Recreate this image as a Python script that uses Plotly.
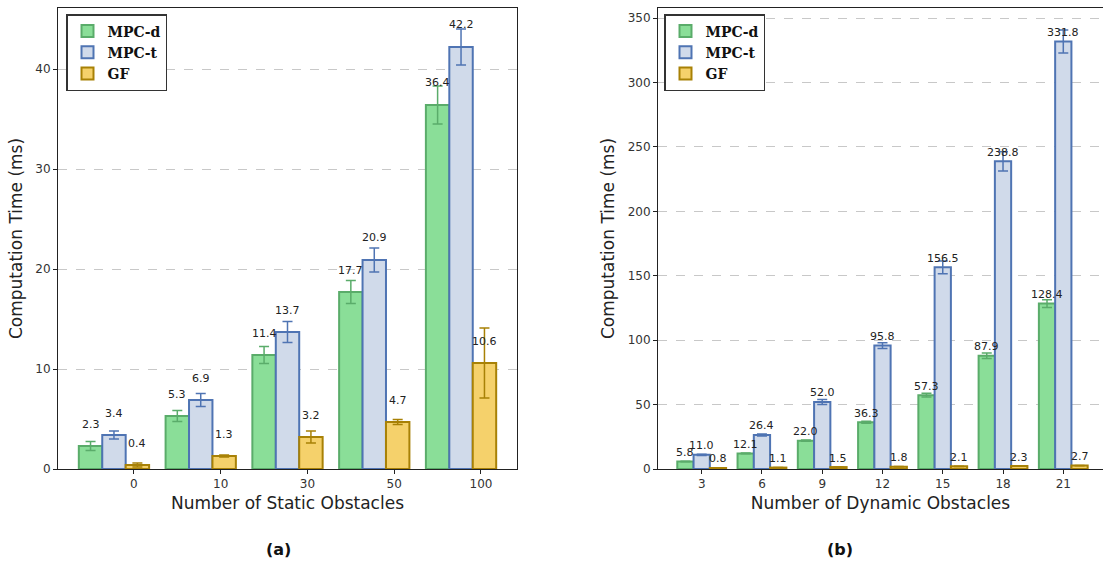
import plotly.graph_objects as go

# ---------------- data ----------------
static_labels = ["0", "10", "30", "50", "100"]
static_mpcd = [2.3, 5.3, 11.4, 17.7, 36.4]
static_mpcd_err = [0.45, 0.55, 0.85, 1.15, 1.9]
static_mpct = [3.4, 6.9, 13.7, 20.9, 42.2]
static_mpct_err = [0.4, 0.65, 1.05, 1.2, 1.8]
static_gf = [0.4, 1.3, 3.2, 4.7, 10.6]
static_gf_err = [0.2, 0.1, 0.6, 0.25, 3.5]

dyn_labels = ["3", "6", "9", "12", "15", "18", "21"]
dyn_mpcd = [5.8, 12.1, 22.0, 36.3, 57.3, 87.9, 128.4]
dyn_mpcd_err = [0.2, 0.3, 0.5, 0.8, 1.5, 2.2, 3.0]
dyn_mpct = [11.0, 26.4, 52.0, 95.8, 156.5, 238.8, 331.8]
dyn_mpct_err = [0.5, 0.8, 1.9, 2.2, 5.0, 7.5, 9.0]
dyn_gf = [0.8, 1.1, 1.5, 1.8, 2.1, 2.3, 2.7]
dyn_gf_err = [0.1, 0.1, 0.1, 0.1, 0.1, 0.1, 0.1]

series_names = ["MPC-d", "MPC-t", "GF"]
fill_colors = ["#8ade98", "#d0daea", "#f5d16b"]
edge_colors = ["#5aac6a", "#4f74b3", "#a88106"]

W = 1103
H = 562
BAR_W = 0.27

fig = go.Figure()


def add_panel(vals, errs, xa, ya, legend_name, label_offset):
    n = len(vals[0])
    offsets = [-BAR_W, 0.0, BAR_W]
    for s in range(3):
        xs = [i + offsets[s] for i in range(n)]
        fig.add_trace(go.Bar(
            x=xs, y=vals[s], width=BAR_W,
            name=series_names[s],
            marker=dict(color=fill_colors[s],
                        line=dict(color=edge_colors[s], width=2)),
            error_y=dict(type="data", array=errs[s], visible=True,
                         color=edge_colors[s], thickness=1.5, width=5),
            xaxis=xa, yaxis=ya, legend=legend_name,
            hoverinfo="skip",
        ))
        for x, v in zip(xs, vals[s]):
            fig.add_annotation(
                x=x, y=v + label_offset, xref=xa, yref=ya,
                text=f"{v:.1f}", showarrow=False,
                font=dict(family="DejaVu Sans", size=11, color="#222"),
                yanchor="middle", xanchor="center",
            )


add_panel([static_mpcd, static_mpct, static_gf],
          [static_mpcd_err, static_mpct_err, static_gf_err],
          "x", "y", "legend", 2.2)
add_panel([dyn_mpcd, dyn_mpct, dyn_gf],
          [dyn_mpcd_err, dyn_mpct_err, dyn_gf_err],
          "x2", "y2", "legend2", 7.0)

y_top = 1 - 8 / H
y_bot = 1 - 469 / H

axis_common = dict(
    showline=True, linecolor="#222", linewidth=1,
    ticks="outside", ticklen=4, tickcolor="#222",
    tickfont=dict(family="DejaVu Sans", size=12, color="#333"),
    zeroline=False, automargin=False,
)
title_font = dict(family="DejaVu Sans", size=17, color="#222")
legend_font = dict(family="DejaVu Serif", size=14, color="#111", weight="bold")

fig.update_layout(
    width=W, height=H, autosize=False,
    margin=dict(l=0, r=0, t=0, b=0, pad=0, autoexpand=False),
    paper_bgcolor="white", plot_bgcolor="white",
    barmode="overlay",
    xaxis=dict(
        domain=[58 / W, 517 / W], anchor="y",
        range=[-0.645, 4.645],
        tickvals=[i + 0.23 for i in range(len(static_labels))],
        ticktext=static_labels, showgrid=False, mirror=True,
        title=dict(text="Number of Static Obstacles", font=title_font, standoff=6),
        **axis_common,
    ),
    yaxis=dict(
        domain=[y_bot, y_top], anchor="x",
        range=[0, 46.1], dtick=10,
        showgrid=True, gridcolor="#c8c8c8", griddash="dash", gridwidth=1,
        mirror=True,
        title=dict(text="Computation Time (ms)", font=title_font, standoff=8),
        **axis_common,
    ),
    xaxis2=dict(
        domain=[658 / W, 1.0], anchor="y2",
        range=[-0.725, 6.659],
        tickvals=list(range(len(dyn_labels))),
        ticktext=dyn_labels, showgrid=False, mirror=True,
        title=dict(text="Number of Dynamic Obstacles", font=title_font, standoff=6),
        **axis_common,
    ),
    yaxis2=dict(
        domain=[y_bot, y_top], anchor="x2",
        range=[0, 357.8], dtick=50,
        showgrid=True, gridcolor="#c8c8c8", griddash="dash", gridwidth=1,
        mirror=False,
        title=dict(text="Computation Time (ms)", font=title_font, standoff=8),
        **axis_common,
    ),
    legend=dict(
        x=66 / W, y=1 - 14 / H, xanchor="left", yanchor="top",
        bgcolor="white", bordercolor="#333", borderwidth=1.5,
        font=legend_font, tracegroupgap=0, itemwidth=30,
    ),
    legend2=dict(
        x=664 / W, y=1 - 14 / H, xanchor="left", yanchor="top",
        bgcolor="white", bordercolor="#333", borderwidth=1.5,
        font=legend_font, tracegroupgap=0, itemwidth=30,
    ),
)

fig.add_annotation(x=264 / W, y=1 - 549 / H, xref="paper", yref="paper",
                   text="<b>(a)</b>", showarrow=False, yanchor="middle",
                   font=dict(family="DejaVu Sans", size=16, color="#111"))
fig.add_annotation(x=855 / W, y=1 - 549 / H, xref="paper", yref="paper",
                   text="<b>(b)</b>", showarrow=False, yanchor="middle",
                   font=dict(family="DejaVu Sans", size=16, color="#111"))

fig.write_html("out.html",
               config={"displayModeBar": False},
               post_script="document.body.style.margin='0';"
                           "document.body.style.overflow='hidden';")
